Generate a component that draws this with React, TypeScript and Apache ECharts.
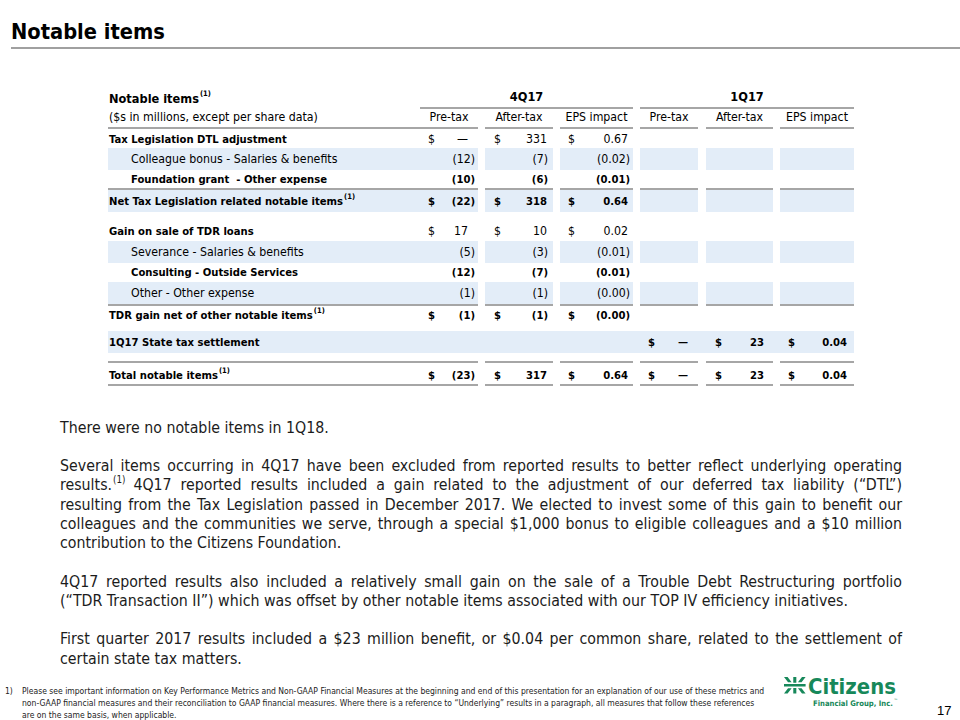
import { useEffect, useRef } from 'react';
import * as echarts from 'echarts';

// ---------------- data ----------------
const slideTitle = 'Notable items';
const tableTitle = 'Notable items';
const unitsNote = '($s in millions, except per share data)';
const periods = ['4Q17', '1Q17'];
const measures = ['Pre-tax', 'After-tax', 'EPS impact'];

const rowLabels = [
  'Tax Legislation DTL adjustment',
  'Colleague bonus - Salaries & benefits',
  'Foundation grant  - Other expense',
  'Net Tax Legislation related notable items',
  'Gain on sale of TDR loans',
  'Severance - Salaries & benefits',
  'Consulting - Outside Services',
  'Other - Other expense',
  'TDR gain net of other notable items',
  '1Q17 State tax settlement',
  'Total notable items',
];
const rowIndented = [false, true, true, false, false, true, true, true, false, false, false];
const rowFootnoted = [false, false, false, true, false, false, false, false, true, false, true];
const rowLabelBold = [true, false, true, true, true, false, true, false, true, true, true];
const rowValueBold = [false, false, true, true, false, false, true, false, true, true, true];
const rowDollar = [true, false, false, true, true, false, false, false, true, true, true];
const rowShaded = [false, true, false, true, false, true, false, true, false, true, false];

const preTax4Q17 = ['—', '(12)', '(10)', '(22)', '17', '(5)', '(12)', '(1)', '(1)', '', '(23)'];
const afterTax4Q17 = ['331', '(7)', '(6)', '318', '10', '(3)', '(7)', '(1)', '(1)', '', '317'];
const eps4Q17 = ['0.67', '(0.02)', '(0.01)', '0.64', '0.02', '(0.01)', '(0.01)', '(0.00)', '(0.00)', '', '0.64'];
const preTax1Q17 = ['', '', '', '', '', '', '', '', '', '—', '—'];
const afterTax1Q17 = ['', '', '', '', '', '', '', '', '', '23', '23'];
const eps1Q17 = ['', '', '', '', '', '', '', '', '', '0.04', '0.04'];

const bodyParagraphs: string[][] = [
  ['There were no notable items in 1Q18.'],
  [
    'Several items occurring in 4Q17 have been excluded from reported results to better reflect underlying operating',
    'results.^(1) 4Q17 reported results included a gain related to the adjustment of our deferred tax liability (“DTL”)',
    'resulting from the Tax Legislation passed in December 2017. We elected to invest some of this gain to benefit our',
    'colleagues and the communities we serve, through a special $1,000 bonus to eligible colleagues and a $10 million',
    'contribution to the Citizens Foundation.',
  ],
  [
    '4Q17 reported results also included a relatively small gain on the sale of a Trouble Debt Restructuring portfolio',
    '(“TDR Transaction II”) which was offset by other notable items associated with our TOP IV efficiency initiatives.',
  ],
  [
    'First quarter 2017 results included a $23 million benefit, or $0.04 per common share, related to the settlement of',
    'certain state tax matters.',
  ],
];

const footnoteMarker = '1)';
const footnoteLines = [
  'Please see important information on Key Performance Metrics and Non-GAAP Financial Measures at the beginning and end of this presentation for an explanation of our use of these metrics and',
  'non-GAAP financial measures and their reconciliation to GAAP financial measures. Where there is a reference to “Underlying” results in a paragraph, all measures that follow these references',
  'are on the same basis, when applicable.',
];
const logoName = 'Citizens';
const logoSub = 'Financial Group, Inc.';
const pageNumber = '17';

// ---------------- layout / style ----------------
const FONT = "'DejaVu Sans Condensed', 'DejaVu Sans', sans-serif";
const NARROW = "'Liberation Sans Narrow', 'DejaVu Sans Condensed', sans-serif";
const GREEN = '#17885a';
const SHADE = '#e3edf8';
const RULE = '#a6a6a6';
const INK = '#000000';
const BODY_INK = '#1c1c1c';

const MARK_PATH =
  'M0 0 L4 0 L8.5 7 L4.5 7 Z M20 0 L24 0 L19.5 7 L15.5 7 Z M4.5 15 L8.5 15 L4 22 L0 22 Z M15.5 15 L19.5 15 L24 22 L20 22 Z ' +
  'M10.3 0 L13.7 0 L13.7 7.5 L10.3 7.5 Z M10.3 14.5 L13.7 14.5 L13.7 22 L10.3 22 Z M0 9.4 L24 9.4 L24 12.6 L0 12.6 Z';

let registered = false;

export default function App() {
  const ref = useRef<HTMLDivElement>(null);

  useEffect(() => {
    document.body.style.margin = '0';
    if (!registered) {
      echarts.graphic.registerShape('citizensMark', echarts.graphic.extendPath(MARK_PATH, {}) as any);
      registered = true;
    }
    const chart = echarts.init(ref.current!, undefined, { renderer: 'svg' });

    const ctx = document.createElement('canvas').getContext('2d')!;
    const measure = (t: string, size: number, weight: string, family: string) => {
      ctx.font = `${weight} ${size}px ${family}`;
      return ctx.measureText(t).width;
    };
    const fit = (sample: string, target: number, weight: string, family: string) =>
      (100 * target) / measure(sample, 100, weight, family);

    const els: any[] = [];
    const text = (
      t: string, x: number, y: number, size: number, weight: string,
      opt: { align?: string; fill?: string; family?: string; v?: string } = {}
    ) => {
      els.push({
        type: 'text', x, y, silent: true,
        style: {
          text: t, fontSize: size, fontWeight: weight, fontFamily: opt.family || FONT,
          fill: opt.fill || INK, align: opt.align || 'left', verticalAlign: opt.v || 'middle',
        },
      });
    };
    const rect = (x: number, y: number, w: number, h: number, fill: string) =>
      els.push({ type: 'rect', silent: true, shape: { x, y, width: w, height: h }, style: { fill } });
    const line = (x1: number, y1: number, x2: number, y2: number, w = 2, c = RULE) =>
      els.push({ type: 'line', silent: true, shape: { x1, y1, x2, y2 }, style: { stroke: c, lineWidth: w } });

    // ---- slide title ----
    const titleSize = fit(slideTitle, 154, 'bold', FONT);
    text(slideTitle, 11, 31, titleSize, 'bold');
    line(11, 48, 960, 48, 2.2, '#a0a0a0');

    // ---- table ----
    const tSize = fit(unitsNote, 209, 'normal', FONT);
    const tBold = fit(rowLabels[0], 178, 'bold', FONT);
    const hSize = fit(tableTitle, 90, 'bold', FONT);
    const supSize = tSize * 0.62;
    const segs = [[108, 478], [485, 553], [560, 633], [640, 698], [706, 773], [780, 854]];
    const groupSpans = [[420, 633], [640, 854]];
    const colBounds = [[420, 478], [485, 553], [560, 633], [640, 698], [706, 773], [780, 854]];
    const dollarX = [428, 494, 568, 648, 715, 788];
    const rightPos = [468, 547, 628, 688, 764, 847];
    const rightParen = [475, 548, 630, 694, 768, 850];
    const rowY = [139, 159, 179, 201, 231, 252, 272, 293, 315, 342, 375];
    const columns = [preTax4Q17, afterTax4Q17, eps4Q17, preTax1Q17, afterTax1Q17, eps1Q17];

    // shading
    rowLabels.forEach((_, r) => {
      if (!rowShaded[r]) return;
      const y0 = rowY[r] - 11;
      if (r === 9) {
        rect(108, y0, 854 - 108, 22, SHADE);
      } else {
        segs.forEach(([a, b]) => rect(a, y0, b - a, 22, SHADE));
      }
    });

    // rules
    groupSpans.forEach(([a, b]) => line(a, 108, b, 108));
    [128, 189, 305, 362, 385].forEach((y) => segs.forEach(([a, b]) => line(a, y, b, y)));

    // headers
    text(tableTitle, 109, 98, hSize, 'bold');
    const ttw = measure(tableTitle, hSize, 'bold', FONT);
    text('(1)', 109 + ttw + 1, 93, hSize * 0.6, 'bold');
    periods.forEach((p, i) => text(p, (groupSpans[i][0] + groupSpans[i][1]) / 2, 96, hSize, 'bold', { align: 'center' }));
    text(unitsNote, 109, 117, tSize, 'normal');
    colBounds.forEach(([a, b], i) => text(measures[i % 3], (a + b) / 2, 117, tSize, 'normal', { align: 'center' }));

    // rows
    rowLabels.forEach((lab, r) => {
      const x = rowIndented[r] ? 131 : 109;
      const lw = rowLabelBold[r] ? 'bold' : 'normal';
      const ls = rowLabelBold[r] ? tBold : tSize;
      text(lab, x, rowY[r], ls, lw);
      if (rowFootnoted[r]) {
        const w = measure(lab, ls, lw, FONT);
        text('(1)', x + w + 1, rowY[r] - 5, supSize, 'bold');
      }
      const vw = rowValueBold[r] ? 'bold' : 'normal';
      const vs = rowValueBold[r] ? tBold : tSize;
      columns.forEach((col, c) => {
        const v = col[r];
        if (!v) return;
        if (rowDollar[r]) text('$', dollarX[c], rowY[r], vs, vw);
        const rx = v.endsWith(')') ? rightParen[c] : rightPos[c];
        text(v, rx, rowY[r], vs, vw, { align: 'right' });
      });
    });

    // ---- body paragraphs (justified) ----
    const bSize = fit(bodyParagraphs[0][0], 269, 'normal', FONT);
    const bSup = bSize * 0.62;
    const left = 60;
    const right = 902;
    const step = 19.25;
    let y = 427;
    bodyParagraphs.forEach((para) => {
      para.forEach((ln, li) => {
        const words = ln.split(' ').map((w) => {
          const [main, sup] = w.split('^');
          const mw = measure(main, bSize, 'normal', FONT);
          const sw = sup ? measure(sup, bSup, 'normal', FONT) : 0;
          return { main, sup, mw, w: mw + sw };
        });
        const last = li === para.length - 1;
        const total = words.reduce((s, w) => s + w.w, 0);
        const space = measure(' ', bSize, 'normal', FONT);
        const gap = last ? space : Math.max(2, (right - left - total) / (words.length - 1));
        let x = left;
        words.forEach((w) => {
          text(w.main, x, y, bSize, 'normal', { fill: BODY_INK });
          if (w.sup) text(w.sup, x + w.mw + 1, y - 5, bSup, 'normal', { fill: BODY_INK });
          x += w.w + gap;
        });
        y += step;
      });
      y += step;
    });

    // ---- footnote ----
    const fSize = fit(footnoteLines[0], 743, 'normal', NARROW);
    text(footnoteMarker, 5, 691, fSize, 'normal', { family: NARROW, fill: '#222' });
    footnoteLines.forEach((l, i) => text(l, 22, 691 + i * 12, fSize, 'normal', { family: NARROW, fill: '#222' }));

    // ---- logo & page number ----
    els.push({ type: 'citizensMark', x: 784, y: 677, scaleX: 0.9, scaleY: 0.75, silent: true, style: { fill: GREEN } });
    const lSize = fit(logoName, 88, 'bold', FONT);
    text(logoName, 808, 686, lSize, 'bold', { fill: GREEN });
    const sSize = fit(logoSub, 80, 'bold', FONT);
    text(logoSub, 813, 703, sSize, 'bold', { fill: GREEN });
    const sw = measure(logoSub, sSize, 'bold', FONT);
    text('™', 813 + sw + 1, 700, sSize * 0.6, 'normal', { fill: GREEN });
    text(pageNumber, 937, 710, 13, 'normal', { family: "'Liberation Sans', sans-serif" });

    chart.setOption({ animation: false, graphic: { elements: els } });
    return () => chart.dispose();
  }, []);

  return <div ref={ref} style={{ width: 960, height: 720, background: '#fff' }} />;
}
